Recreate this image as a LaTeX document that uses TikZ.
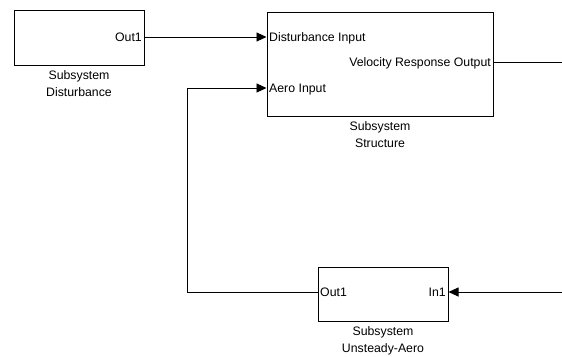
\documentclass[tikz,border=0pt]{standalone}
\usepackage{fontspec}
\setmainfont{Liberation Sans}
\usetikzlibrary{arrows.meta}
\begin{document}
\begin{tikzpicture}[x=1pt,y=-1pt,
  block/.style={draw, line width=1pt, inner sep=0pt},
  lbl/.style={font=\fontsize{12.3}{16.5}\selectfont, align=center, anchor=north, inner sep=0pt, yshift=-5.3pt},
  port/.style={font=\fontsize{12.3}{14}\selectfont, inner sep=0pt, text height=8.6pt, text depth=0pt},
  wire/.style={line width=0.9pt},
  sig/.style={wire, -{Triangle[length=10pt,width=9pt]}}]
\useasboundingbox[fill=white] (0,0) rectangle (562,356);
% blocks
\node[block, minimum width=130pt, minimum height=55pt] (dist) at (79,37.5) {};
\node[block, minimum width=226pt, minimum height=104pt] (struct) at (380,64) {};
\node[block, minimum width=130pt, minimum height=54pt] (aero) at (383,294) {};
% block captions
\node[lbl] (distL) at (dist.south) {Subsystem\\Disturbance};
\node[lbl] (structL) at (struct.south) {Subsystem\\Structure};
\node[lbl] (aeroL) at (aero.south) {Subsystem\\Unsteady-Aero};
% ports
\coordinate (dOut) at (dist.east |- 0,37);
\coordinate (sDin) at (struct.west |- 0,37);
\coordinate (sAin) at (struct.west |- 0,88);
\coordinate (sVout) at (struct.east |- 0,62);
\coordinate (uOut) at (aero.west |- 0,292);
\coordinate (uIn) at (aero.east |- 0,292);
\coordinate (rEnd1) at (562,62);
\coordinate (rEnd2) at (562,292);
\coordinate (fb) at (187,88);
% port labels
\node[port, anchor=east] (dOutL) at ([xshift=-2.5pt]dOut) {Out1};
\node[port, anchor=west] (sDinL) at ([xshift=2.5pt]sDin) {Disturbance Input};
\node[port, anchor=west] (sAinL) at ([xshift=2.5pt]sAin) {Aero Input};
\node[port, anchor=east] (sVoutL) at ([xshift=-2.5pt]sVout) {Velocity Response Output};
\node[port, anchor=west] (uOutL) at ([xshift=2.5pt]uOut) {Out1};
\node[port, anchor=east] (uInL) at ([xshift=-2.5pt]uIn) {In1};
% connectors
\draw[sig] (dOut) -- (sDin);
\draw[wire] (sVout) -- (rEnd1);
\draw[sig] (rEnd2) -- (uIn);
\draw[sig] (uOut) -| (fb) -- (sAin);
\end{tikzpicture}
\end{document}
